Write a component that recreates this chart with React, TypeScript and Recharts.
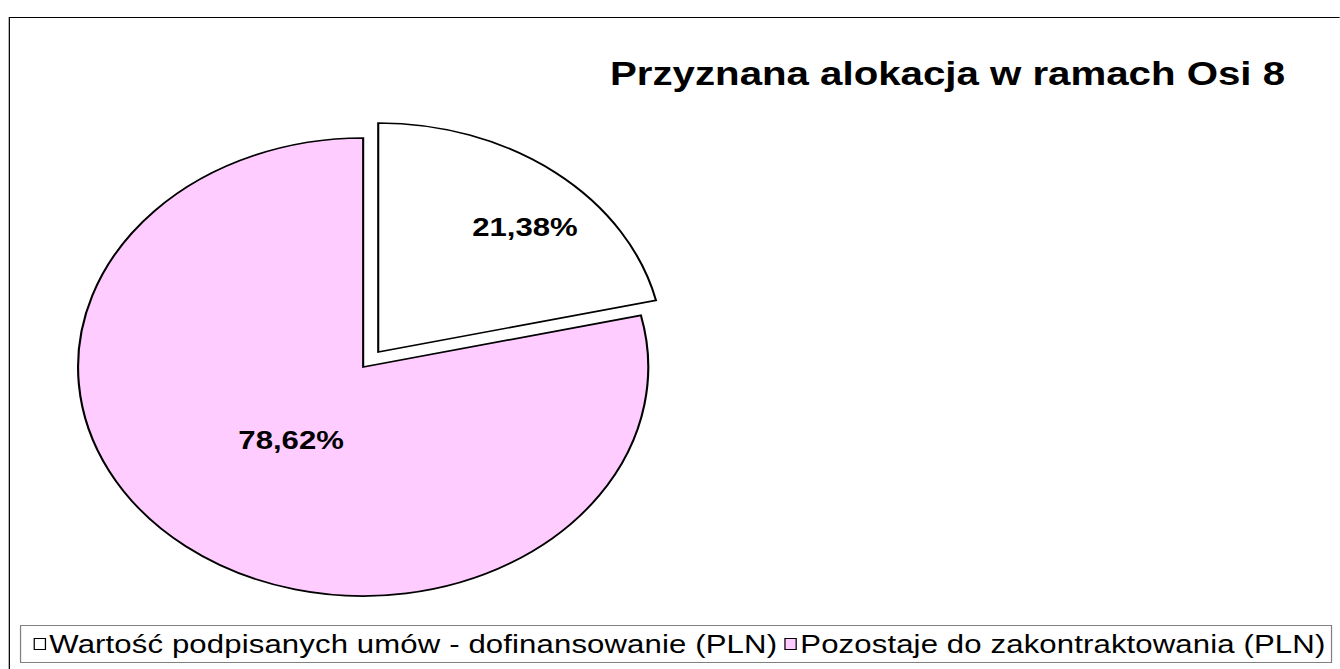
import { Cell, Pie, PieChart } from "recharts";

const categories = [
  "Wartość podpisanych umów - dofinansowanie (PLN)",
  "Pozostaje do zakontraktowania (PLN)",
];
const shares = [21.38, 78.62];
const colors = ["#FFFFFF", "#FFCCFF"];
const title = "Przyznana alokacja w ramach Osi 8";

const slices = categories.map((name, i) => ({ name, value: shares[i] }));

// the original picture is stretched sideways, so everything is drawn narrow and scaled
const SX = 1.245;
const FONT = "'Liberation Sans', Arial, sans-serif";
const RAD = Math.PI / 180;

// where each label sits: fraction of radius and angle tweak from the mid angle
const labelPos = [
  { f: 0.749, d: -4.9 },
  { f: 0.407, d: 0.1 },
];

const fmt = (p: number) => `${(p * 100).toFixed(2).replace(".", ",")}%`;

const makeLabel = (only: number) => (props: any) => {
  const { cx, cy, midAngle, outerRadius, percent, index } = props;
  if (index !== only) return null;
  const a = (midAngle + labelPos[index].d) * RAD;
  const r = outerRadius * labelPos[index].f;
  const x = cx + r * Math.cos(-a);
  const y = cy + r * Math.sin(-a);
  return (
    <text
      x={x}
      y={y}
      textAnchor="middle"
      dominantBaseline="central"
      fontFamily={FONT}
      fontWeight="bold"
      fontSize={25}
      fill="#000"
    >
      {fmt(percent)}
    </text>
  );
};

export default function App() {
  const W = 1340 / SX;
  return (
    <div
      style={{
        position: "absolute",
        left: 0,
        top: 0,
        width: W,
        height: 669,
        overflow: "hidden",
        transform: `scaleX(${SX})`,
        transformOrigin: "0 0",
        fontFamily: FONT,
        background: "#fff",
      }}
    >
      <div
        style={{
          position: "absolute",
          left: 7.2,
          top: 17,
          width: 1200,
          height: 800,
          border: "1.5px solid #000",
        }}
      />
      <div style={{ position: "absolute", left: 0, top: 0 }}>
        <PieChart width={W} height={669}>
          <Pie
            data={slices}
            dataKey="value"
            nameKey="name"
            cx={286.7}
            cy={362}
            outerRadius={229}
            startAngle={90}
            endAngle={-270}
            label={makeLabel(1)}
            labelLine={false}
            isAnimationActive={false}
          >
            {slices.map((s, i) => (
              <Cell
                key={s.name}
                fill={i === 1 ? colors[i] : "none"}
                stroke={i === 1 ? "#000" : "none"}
                strokeWidth={1.7}
              />
            ))}
          </Pie>
          <Pie
            data={slices}
            dataKey="value"
            nameKey="name"
            cx={298.8}
            cy={347}
            outerRadius={229}
            startAngle={90}
            endAngle={-270}
            label={makeLabel(0)}
            labelLine={false}
            isAnimationActive={false}
          >
            {slices.map((s, i) => (
              <Cell
                key={s.name}
                fill={i === 0 ? colors[i] : "none"}
                stroke={i === 0 ? "#000" : "none"}
                strokeWidth={1.7}
              />
            ))}
          </Pie>
        </PieChart>
      </div>
      <div
        style={{
          position: "absolute",
          left: 490,
          top: 56,
          fontSize: 32.3,
          fontWeight: "bold",
          lineHeight: "37px",
          whiteSpace: "nowrap",
          color: "#000",
        }}
      >
        {title}
      </div>
      <div
        style={{
          position: "absolute",
          left: 16,
          top: 625,
          width: 1054,
          height: 38,
          boxSizing: "border-box",
          border: "1px solid #808080",
          display: "flex",
          alignItems: "center",
          paddingLeft: 10,
          fontSize: 25,
          letterSpacing: 0.1,
          color: "#000",
          whiteSpace: "nowrap",
        }}
      >
        {categories.map((c, i) => (
          <div
            key={c}
            style={{ display: "flex", alignItems: "center", marginRight: 6 }}
          >
            <span
              style={{
                display: "inline-block",
                width: 9.6,
                height: 12,
                boxSizing: "border-box",
                border: "1.3px solid #000",
                background: colors[i],
                marginRight: 3,
              }}
            />
            <span>{c}</span>
          </div>
        ))}
      </div>
    </div>
  );
}
